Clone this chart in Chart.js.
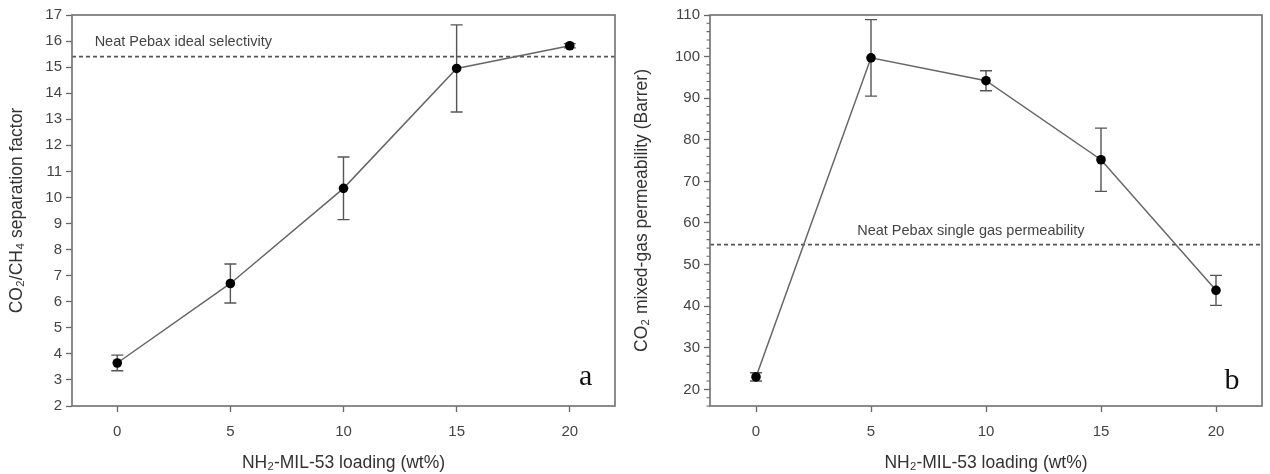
<!DOCTYPE html>
<html><head><meta charset="utf-8">
<script src="https://cdn.jsdelivr.net/npm/chart.js@4.4.1/dist/chart.umd.min.js"></script>
<style>
html,body{margin:0;padding:0;background:#fff;width:1270px;height:474px;overflow:hidden}
canvas{position:absolute;top:0}
#c1{left:0}
#c2{left:625px}
</style></head><body>
<canvas id="c1" width="625" height="474"></canvas>
<canvas id="c2" width="645" height="474"></canvas>
<script>
// ---- data ----
const loadings = [0, 5, 10, 15, 20];
const selectivity = [3.65, 6.7, 10.35, 14.95, 15.82];
const selectivityErr = [0.3, 0.75, 1.2, 1.67, 0.08];
const permeability = [23, 99.7, 94.2, 75.2, 43.8];
const permeabilityErr = [1.0, 9.2, 2.4, 7.6, 3.6];
const selectivityRef = 15.4;
const permeabilityRef = 54.8;
const leftYTicks = [2,3,4,5,6,7,8,9,10,11,12,13,14,15,16,17];
const rightYTicks = [20,30,40,50,60,70,80,90,100,110];
const rightMinorTicks = [16,18,22,24,26,28,32,34,36,38,42,44,46,48,52,54,56,58,62,64,66,68,72,74,76,78,82,84,86,88,92,94,96,98,102,104,106,108];
const xTicks = [0, 5, 10, 15, 20];
const xTitle = 'NH₂-MIL-53 loading (wt%)';
const leftYTitle = 'CO₂/CH₄ separation factor';
const rightYTitle = 'CO₂ mixed-gas permeability (Barrer)';
const leftNote = 'Neat Pebax ideal selectivity';
const rightNote = 'Neat Pebax single gas permeability';

Chart.defaults.font.family = '"Liberation Sans", Arial, sans-serif';
Chart.defaults.animation = false;

const panelPlugin = {
  id: 'panel',
  beforeDatasetsDraw(chart, args, o) {
    const {ctx, chartArea: a, scales: {x, y}} = chart;
    ctx.save();
    const yr = y.getPixelForValue(o.refValue);
    ctx.strokeStyle = '#555'; ctx.lineWidth = 1.7; ctx.setLineDash([4, 3]);
    ctx.beginPath(); ctx.moveTo(a.left, yr); ctx.lineTo(a.right, yr); ctx.stroke();
    ctx.setLineDash([]);
    const meta = chart.getDatasetMeta(0);
    const vals = chart.data.datasets[0].data;
    ctx.strokeStyle = '#555'; ctx.lineWidth = 1.4;
    o.errors.forEach((e, i) => {
      const px = meta.data[i].x;
      const yt = y.getPixelForValue(vals[i].y + e);
      const yb = y.getPixelForValue(vals[i].y - e);
      ctx.beginPath();
      ctx.moveTo(px, yt); ctx.lineTo(px, yb);
      ctx.moveTo(px - 6, yt); ctx.lineTo(px + 6, yt);
      ctx.moveTo(px - 6, yb); ctx.lineTo(px + 6, yb);
      ctx.stroke();
    });
    ctx.restore();
  },
  afterDraw(chart, args, o) {
    const {ctx, chartArea: a, scales: {x, y}} = chart;
    ctx.save();
    ctx.strokeStyle = '#777'; ctx.lineWidth = 1.7;
    ctx.strokeRect(a.left, a.top, a.right - a.left, a.bottom - a.top);
    if (o.minor) {
      ctx.strokeStyle = '#666'; ctx.lineWidth = 1.1;
      ctx.beginPath();
      o.minor.forEach(v => {
        const py = y.getPixelForValue(v);
        ctx.moveTo(a.left - 3.5, py); ctx.lineTo(a.left, py);
      });
      ctx.stroke();
    }
    ctx.fillStyle = '#444';
    ctx.font = '14.5px "Liberation Sans", Arial, sans-serif';
    ctx.textAlign = 'left'; ctx.textBaseline = 'middle';
    ctx.fillText(o.note, x.getPixelForValue(o.noteX), y.getPixelForValue(o.noteY));
    ctx.fillStyle = '#111';
    ctx.font = '30px "Liberation Serif", "Times New Roman", serif';
    ctx.textAlign = 'center';
    ctx.fillText(o.letter, x.getPixelForValue(o.letterX), y.getPixelForValue(o.letterY));
    ctx.restore();
  }
};

function makeChart(id, values, errors, ref, yMin, yMax, yTicks, yTitle, yWidth, rightPad, extra) {
  return new Chart(document.getElementById(id), {
    type: 'scatter',
    data: {
      datasets: [{
        data: loadings.map((v, i) => ({x: v, y: values[i]})),
        showLine: true,
        borderColor: '#666', borderWidth: 1.5,
        pointRadius: 4.8, pointBackgroundColor: '#000', pointBorderColor: '#000', pointBorderWidth: 0
      }]
    },
    options: {
      responsive: false,
      layout: {padding: {left: 0, right: rightPad, top: 15, bottom: 0}},
      plugins: {
        legend: {display: false}, tooltip: {enabled: false},
        panel: Object.assign({refValue: ref, errors: errors}, extra)
      },
      scales: {
        x: {
          type: 'linear', min: -2, max: 22,
          afterBuildTicks: s => { s.ticks = xTicks.map(v => ({value: v})); },
          afterFit: s => { s.height = 68; },
          grid: {drawOnChartArea: false, drawTicks: true, tickLength: 6, tickColor: '#666', tickWidth: 1.3},
          border: {display: false},
          ticks: {color: '#444', font: {size: 15}, padding: 11, maxRotation: 0, autoSkip: false},
          title: {display: true, text: xTitle, color: '#333', font: {size: 17.5}, padding: {top: 0, bottom: 0}}
        },
        y: {
          type: 'linear', min: yMin, max: yMax,
          afterBuildTicks: s => { s.ticks = yTicks.map(v => ({value: v})); },
          afterFit: s => { s.width = yWidth; },
          grid: {drawOnChartArea: false, drawTicks: true, tickLength: 6, tickColor: '#666', tickWidth: 1.3},
          border: {display: false},
          ticks: {color: '#444', font: {size: 15}, padding: 4, autoSkip: false},
          title: {display: true, text: yTitle, color: '#333', font: {size: 17.5}, padding: {top: 7, bottom: 0}}
        }
      }
    },
    plugins: [panelPlugin]
  });
}

makeChart('c1', selectivity, selectivityErr, selectivityRef, 2, 17, leftYTicks, leftYTitle, 72, 10,
  {note: leftNote, noteX: -1.0, noteY: 15.95, letter: 'a', letterX: 20.7, letterY: 3.1});
makeChart('c2', permeability, permeabilityErr, permeabilityRef, 16, 110, rightYTicks, rightYTitle, 85, 8,
  {note: rightNote, noteX: 4.4, noteY: 58.0, letter: 'b', letterX: 20.7, letterY: 22.0, minor: rightMinorTicks});
</script>
</body></html>
